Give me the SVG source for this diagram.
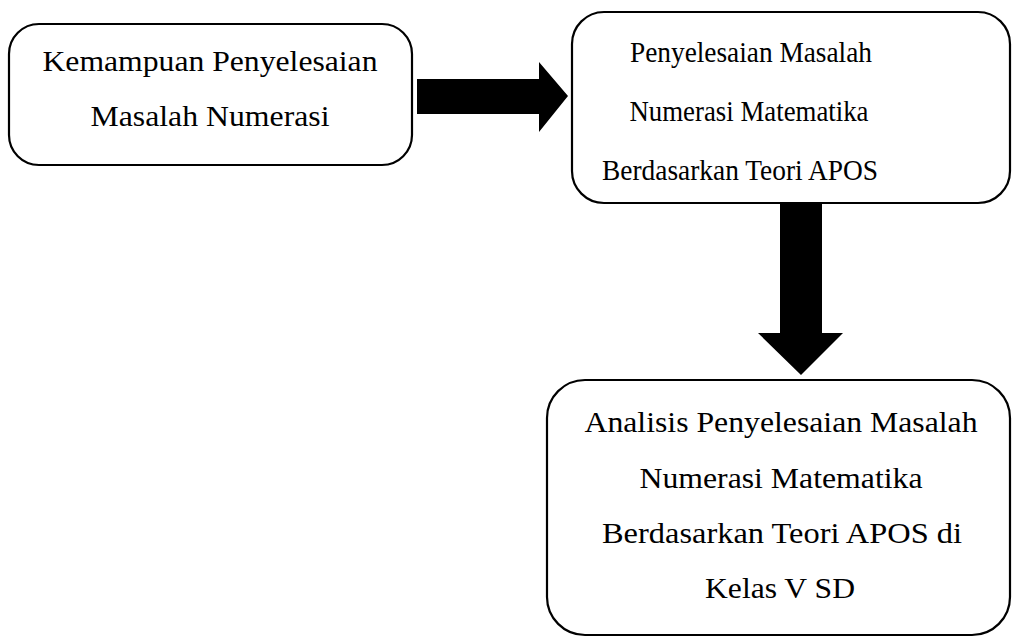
<svg xmlns="http://www.w3.org/2000/svg" width="1012" height="637" viewBox="0 0 1012 637">
<style>
.box{fill:#fff;stroke:#000;stroke-width:2.2}
.t{font-family:"Liberation Serif","Times New Roman",serif;font-size:29px;fill:#000;text-anchor:middle}
.arr{fill:#000;stroke:none}
</style>
<rect width="1012" height="637" fill="#fff"/>
<g id="node1">
<rect class="box" x="9" y="24" width="403" height="141" rx="30" ry="30"/>
<text class="t" x="210" y="71" textLength="335" lengthAdjust="spacingAndGlyphs">Kemampuan Penyelesaian</text>
<text class="t" x="210" y="126" textLength="239" lengthAdjust="spacingAndGlyphs">Masalah Numerasi</text>
</g>
<g id="node2">
<rect class="box" x="572" y="12" width="438" height="191" rx="32" ry="32"/>
<text class="t" x="751" y="62" textLength="242" lengthAdjust="spacingAndGlyphs">Penyelesaian Masalah</text>
<text class="t" x="749" y="121" textLength="239" lengthAdjust="spacingAndGlyphs">Numerasi Matematika</text>
<text class="t" x="740" y="180" textLength="276" lengthAdjust="spacingAndGlyphs">Berdasarkan Teori APOS</text>
</g>
<g id="node3">
<rect class="box" x="547" y="380" width="463" height="255" rx="38" ry="38"/>
<text class="t" x="781" y="432" textLength="393" lengthAdjust="spacingAndGlyphs">Analisis Penyelesaian Masalah</text>
<text class="t" x="781" y="488" textLength="283" lengthAdjust="spacingAndGlyphs">Numerasi Matematika</text>
<text class="t" x="782" y="543" textLength="360" lengthAdjust="spacingAndGlyphs">Berdasarkan Teori APOS di</text>
<text class="t" x="780" y="598" textLength="150" lengthAdjust="spacingAndGlyphs">Kelas V SD</text>
</g>
<g id="connectors">
<polygon class="arr" points="417,79 539,79 539,62 568,96 539,132 539,114 417,114"/>
<polygon class="arr" points="780,203 822,203 822,333 843,333 801,375 758,333 780,333"/>
</g>
</svg>
